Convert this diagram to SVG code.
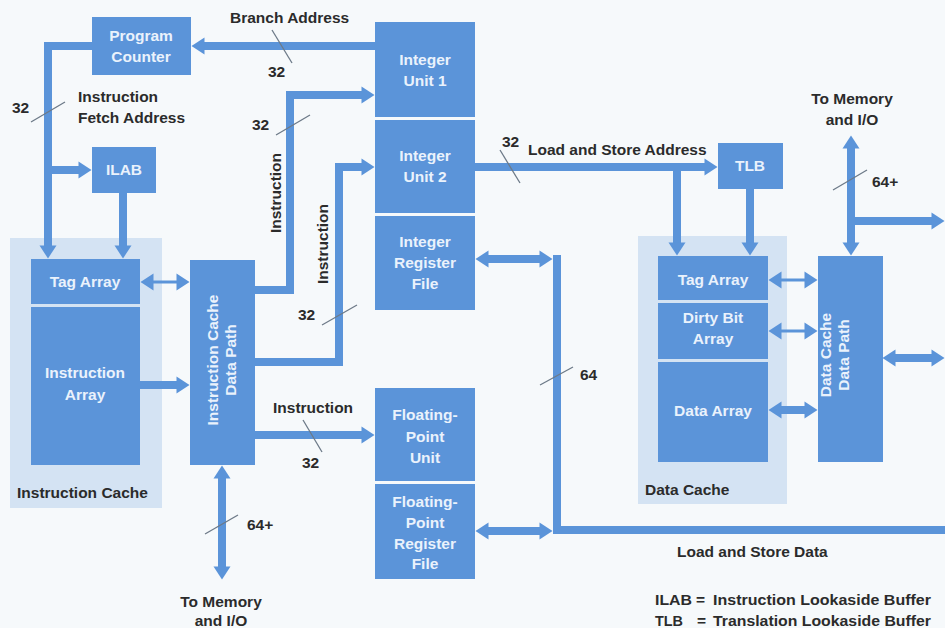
<svg xmlns="http://www.w3.org/2000/svg" width="945" height="628" viewBox="0 0 945 628">
<style>
text{font-family:"Liberation Sans",Arial,sans-serif;font-weight:bold;font-size:15.5px}
.box{fill:#5b94d9}
.cont{fill:#d4e3f3}
.bt{fill:#eaf2fc;text-anchor:middle}
.lb{fill:#2b2b2b}
.mid{text-anchor:middle}
.w{fill:none;stroke:#5b94d9;stroke-width:8;stroke-linejoin:miter}
.t{fill:none;stroke:#5b94d9;stroke-width:3}
.tick{stroke:#6d7a88;stroke-width:1.3;fill:none}
</style>
<defs>
<marker id="ah" markerUnits="userSpaceOnUse" markerWidth="14" markerHeight="18" viewBox="0 -9 14 18" refX="0.5" refY="0" orient="auto-start-reverse" overflow="visible">
<path d="M0,-8.5 L13,0 L0,8.5 z" fill="#5b94d9"/>
</marker>
</defs>
<rect width="945" height="628" fill="#f6f9fb"/>

<g id="instruction-cache">
<rect class="cont" x="10" y="238" width="152" height="270"/>
<text class="lb" x="17" y="498">Instruction Cache</text>
</g>
<g id="data-cache">
<rect class="cont" x="638" y="236" width="149" height="268"/>
<text class="lb" x="645" y="495">Data Cache</text>
</g>

<g id="connectors">
<path class="w" d="M375,46 H204" marker-end="url(#ah)"/>
<path class="w" d="M92,46 H48 V246" marker-end="url(#ah)"/>
<path class="w" d="M48,170 H79" marker-end="url(#ah)"/>
<path class="w" d="M123,192 V246" marker-end="url(#ah)"/>
<path class="t" d="M153,282 H177" marker-start="url(#ah)" marker-end="url(#ah)"/>
<path class="w" d="M140,385 H177" marker-end="url(#ah)"/>
<path class="w" d="M255,290 H290 V95 H362" marker-end="url(#ah)"/>
<path class="w" d="M255,362 H339 V167 H362" marker-end="url(#ah)"/>
<path class="w" d="M255,435 H362" marker-end="url(#ah)"/>
<path class="w" d="M222,478 V567" marker-start="url(#ah)" marker-end="url(#ah)"/>
<path class="w" d="M475,167 H705" marker-end="url(#ah)"/>
<path class="w" d="M677,167 V243" marker-end="url(#ah)"/>
<path class="w" d="M750,189 V243" marker-end="url(#ah)"/>
<path class="t" d="M781,280 H805" marker-start="url(#ah)" marker-end="url(#ah)"/>
<path class="t" d="M781,331 H805" marker-start="url(#ah)" marker-end="url(#ah)"/>
<path class="w" d="M781,410 H805" marker-start="url(#ah)" marker-end="url(#ah)"/>
<path class="w" d="M895,358 H932" marker-start="url(#ah)" marker-end="url(#ah)"/>
<path class="w" d="M851,243 V148" marker-start="url(#ah)" marker-end="url(#ah)"/>
<path class="w" d="M851,221 H932" marker-end="url(#ah)"/>
<path class="w" d="M488,259 H540" marker-start="url(#ah)" marker-end="url(#ah)"/>
<path class="w" d="M557,255 V530 H945"/>
<path class="w" d="M488,531 H540" marker-start="url(#ah)" marker-end="url(#ah)"/>
<line class="tick" x1="272" y1="30" x2="292" y2="63"/>
<line class="tick" x1="31" y1="122" x2="65" y2="102"/>
<line class="tick" x1="276" y1="135" x2="310" y2="115"/>
<line class="tick" x1="322" y1="325" x2="357" y2="305"/>
<line class="tick" x1="303" y1="420" x2="322" y2="452"/>
<line class="tick" x1="205" y1="534" x2="238" y2="515"/>
<line class="tick" x1="500" y1="150" x2="520" y2="183"/>
<line class="tick" x1="540" y1="385" x2="573" y2="367"/>
<line class="tick" x1="833" y1="190" x2="867" y2="170"/>
</g>

<g id="program-counter">
<rect class="box" x="92" y="17" width="99" height="58"/>
<text class="bt" x="141" y="41">Program</text>
<text class="bt" x="141" y="62">Counter</text>
</g>
<g id="ilab">
<rect class="box" x="92" y="147" width="64" height="46"/>
<text class="bt" x="124" y="175">ILAB</text>
</g>
<g id="ic-tag-array">
<rect class="box" x="31" y="259" width="109" height="45"/>
<text class="bt" x="85" y="287">Tag Array</text>
</g>
<g id="instruction-array">
<rect class="box" x="31" y="307" width="109" height="158"/>
<text class="bt" x="85" y="378">Instruction</text>
<text class="bt" x="85" y="400">Array</text>
</g>
<g id="ic-data-path">
<rect class="box" x="190" y="260" width="65" height="205"/>
<g transform="translate(222,360) rotate(-90)">
<text class="bt" x="0" y="-4">Instruction Cache</text>
<text class="bt" x="0" y="14">Data Path</text>
</g>
</g>
<g id="integer-unit-1">
<rect class="box" x="375" y="22" width="100" height="95"/>
<text class="bt" x="425" y="65">Integer</text>
<text class="bt" x="425" y="86">Unit 1</text>
</g>
<g id="integer-unit-2">
<rect class="box" x="375" y="120" width="100" height="93"/>
<text class="bt" x="425" y="161">Integer</text>
<text class="bt" x="425" y="182">Unit 2</text>
</g>
<g id="integer-register-file">
<rect class="box" x="375" y="216" width="100" height="94"/>
<text class="bt" x="425" y="247">Integer</text>
<text class="bt" x="425" y="268">Register</text>
<text class="bt" x="425" y="289">File</text>
</g>
<g id="fp-unit">
<rect class="box" x="375" y="388" width="100" height="93"/>
<text class="bt" x="425" y="420">Floating-</text>
<text class="bt" x="425" y="442">Point</text>
<text class="bt" x="425" y="463">Unit</text>
</g>
<g id="fp-register-file">
<rect class="box" x="375" y="484" width="100" height="95"/>
<text class="bt" x="425" y="507">Floating-</text>
<text class="bt" x="425" y="528">Point</text>
<text class="bt" x="425" y="549">Register</text>
<text class="bt" x="425" y="569">File</text>
</g>
<g id="tlb">
<rect class="box" x="718" y="143" width="65" height="46"/>
<text class="bt" x="750" y="171">TLB</text>
</g>
<g id="dc-tag-array">
<rect class="box" x="658" y="256" width="110" height="44"/>
<text class="bt" x="713" y="285">Tag Array</text>
</g>
<g id="dirty-bit-array">
<rect class="box" x="658" y="303" width="110" height="56"/>
<text class="bt" x="713" y="323">Dirty Bit</text>
<text class="bt" x="713" y="344">Array</text>
</g>
<g id="data-array">
<rect class="box" x="658" y="362" width="110" height="100"/>
<text class="bt" x="713" y="416">Data Array</text>
</g>
<g id="dc-data-path">
<rect class="box" x="818" y="256" width="65" height="206"/>
<g transform="translate(835,355) rotate(-90)">
<text class="bt" x="0" y="-4">Data Cache</text>
<text class="bt" x="0" y="14">Data Path</text>
</g>
</g>

<g id="labels">
<text class="lb" x="230" y="23">Branch Address</text>
<text class="lb" x="268" y="77">32</text>
<text class="lb" x="12" y="113">32</text>
<text class="lb" x="78" y="102">Instruction</text>
<text class="lb" x="78" y="123">Fetch Address</text>
<text class="lb" x="252" y="130">32</text>
<text class="lb mid" transform="translate(281,193) rotate(-90)">Instruction</text>
<text class="lb mid" transform="translate(328,244) rotate(-90)">Instruction</text>
<text class="lb" x="298" y="320">32</text>
<text class="lb" x="273" y="413">Instruction</text>
<text class="lb" x="302" y="468">32</text>
<text class="lb" x="247" y="530">64+</text>
<text class="lb mid" x="221" y="607">To Memory</text>
<text class="lb mid" x="221" y="626">and I/O</text>
<text class="lb" x="502" y="147">32</text>
<text class="lb" x="528" y="155">Load and Store Address</text>
<text class="lb mid" x="852" y="104">To Memory</text>
<text class="lb mid" x="852" y="125">and I/O</text>
<text class="lb" x="872" y="187">64+</text>
<text class="lb" x="580" y="380">64</text>
<text class="lb" x="677" y="557">Load and Store Data</text>
<text class="lb" x="655" y="605" textLength="37" lengthAdjust="spacingAndGlyphs">ILAB</text>
<text class="lb" x="696" y="605">=</text>
<text class="lb" x="713" y="605" textLength="218" lengthAdjust="spacingAndGlyphs">Instruction Lookaside Buffer</text>
<text class="lb" x="655" y="626" textLength="28" lengthAdjust="spacingAndGlyphs">TLB</text>
<text class="lb" x="697" y="626">=</text>
<text class="lb" x="713" y="626" textLength="218" lengthAdjust="spacingAndGlyphs">Translation Lookaside Buffer</text>
</g>
</svg>
